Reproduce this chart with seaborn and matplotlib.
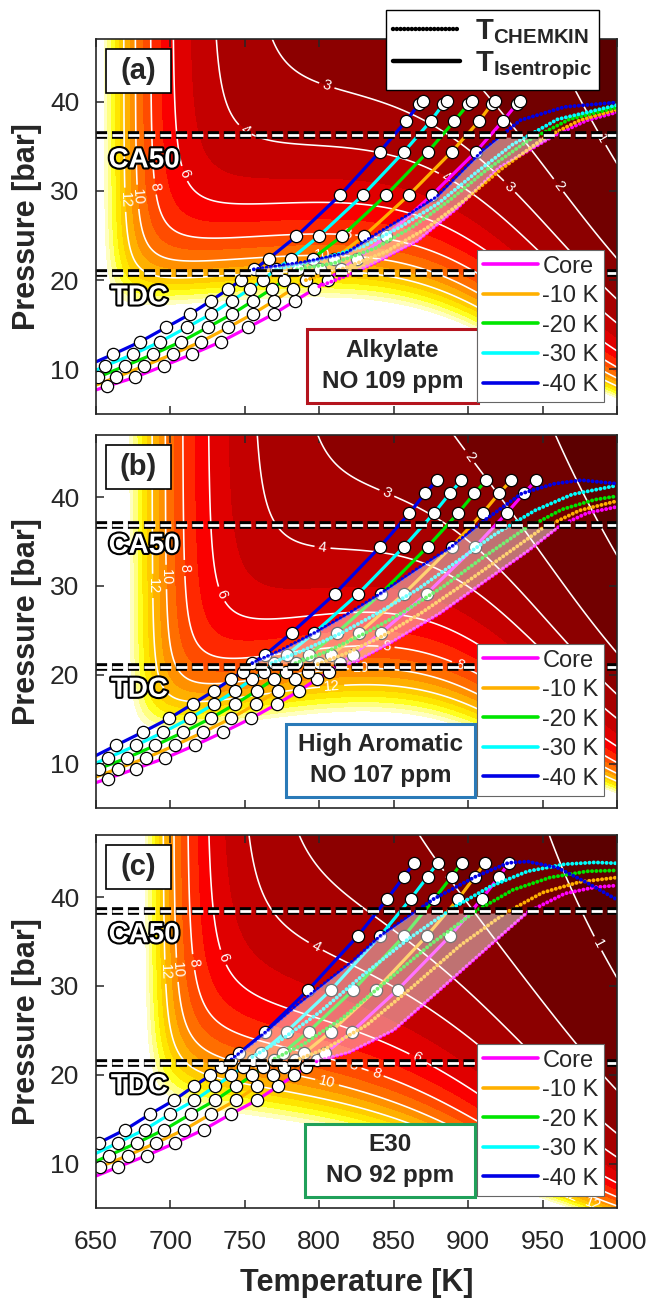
import numpy as np
import matplotlib
matplotlib.use("Agg")
import matplotlib.pyplot as plt
import seaborn as sns
from matplotlib.lines import Line2D
from matplotlib.patches import Rectangle
import matplotlib.patheffects as pe

sns.set_style("ticks")
plt.rcParams["font.family"] = ["Liberation Sans", "DejaVu Sans"]
plt.rcParams["mathtext.fontset"] = "custom"
plt.rcParams["mathtext.rm"] = "Liberation Sans"
plt.rcParams["mathtext.bf"] = "Liberation Sans:bold"
plt.rcParams["lines.scale_dashes"] = False

nan = np.nan

# ---------------- data ----------------
SERIES = ["Core", "-10 K", "-20 K", "-30 K", "-40 K"]
COLORS = ["#ff00ff", "#ffb000", "#00e600", "#00ffff", "#0000e6"]

# ---- panel (a) Alkylate ----
P_ROWS_A = [8.1, 9.1, 10.4, 11.7, 13.1, 14.7, 16.2, 17.7, 19.0, 20.0, 21.2, 22.4, 24.9, 29.5, 34.4, 37.8, 39.7, 40.1]
T_CORE_A = [657.2, 676.0, 695.5, 714.5, 734.0, 752.3, 769.3, 783.9, 796.7, 805.6, 814.6, 825.3, 844.8, 875.5, 905.3, 923.2, 932.6, 934.8]
T_M10_A = [nan, 663.4, 682.5, 701.5, 720.5, 738.9, 755.2, 769.8, 782.1, 791.1, 800.5, 810.1, 829.8, 860.1, 889.1, 907.3, 915.8, 918.0]
T_M20_A = [nan, 651.1, 669.7, 688.5, 707.1, 725.0, 741.4, 755.7, 768.0, 776.5, 785.5, 795.5, 815.0, 844.8, 873.2, 890.7, 900.1, 902.3]
T_M30_A = [nan, nan, 656.3, 675.1, 693.2, 710.9, 727.3, 741.4, 753.4, 762.0, 770.9, 781.0, 799.6, 829.2, 857.1, 874.8, 883.3, 885.5]
T_M40_A = [nan, nan, nan, 661.6, 679.8, 697.0, 713.4, 727.3, 738.9, 747.4, 756.4, 766.0, 784.6, 813.9, 840.8, 858.2, 867.0, 869.4]
START_P_A = [7.7, 8.25, 9.0, 9.9, 10.85]   # isentropic lines at 650 K

# CHEMKIN (dotted) temperature traces, panel (a)
DT_CORE_A = [800, 820, 837, 866, 893, 921, 958, 980, 1000]
DP_CORE_A = [19.3, 20.6, 21.9, 24.4, 28.1, 32.6, 36.2, 37.9, 38.8]
DT_M10_A = [791, 818, 845, 872, 898, 922, 950, 975, 1000]
DP_M10_A = [20.0, 21.4, 23.2, 25.8, 29.0, 32.4, 35.8, 37.9, 39.1]
DT_M20_A = [785, 810, 838, 863, 888, 912, 940, 968, 1000]
DP_M20_A = [21.2, 21.9, 23.6, 26.0, 29.0, 32.3, 35.6, 38.0, 39.35]
DT_M30_A = [771, 800, 830, 855, 880, 905, 930, 960, 1000]
DP_M30_A = [21.2, 22.3, 23.8, 26.0, 28.6, 32.0, 35.2, 38.0, 39.6]
DT_M40_A = [756, 790, 818, 840, 860, 879, 910, 935, 965, 1000]
DP_M40_A = [21.2, 22.0, 23.0, 25.3, 27.3, 29.3, 34.5, 37.9, 39.4, 39.9]

# ---- panel (b) High Aromatic ----
P_ROWS_B = [8.3, 9.43, 10.62, 12.04, 13.53, 15.09, 16.7, 18.19, 19.49, 20.35, 21.28, 22.21, 24.71, 29.11, 34.4, 38.2, 40.4, 41.87]
T_CORE_B = [657.8, 676.9, 696.6, 716.3, 735.5, 754.3, 771.6, 786.6, 798.2, 806.7, 814.0, 822.4, 841.4, 872.1, 904.6, 926.0, 937.4, 945.6]
T_M10_B = [nan, 664.6, 683.6, 703.0, 722.1, 740.7, 757.5, 772.0, 783.7, 792.2, 799.6, 807.9, 826.9, 856.9, 888.9, 909.8, 920.7, 928.9]
T_M20_B = [nan, 652.2, 670.6, 689.9, 708.7, 727.0, 743.6, 757.9, 769.3, 777.6, 784.3, 792.9, 811.7, 841.3, 872.8, 893.3, 904.2, 912.2]
T_M30_B = [nan, nan, 657.8, 676.9, 695.2, 713.1, 729.3, 743.6, 755.0, 763.1, 769.8, 778.1, 796.7, 826.2, 856.9, 877.1, 887.7, 895.5]
T_M40_B = [nan, nan, nan, 663.4, 681.3, 699.3, 714.9, 729.3, 740.7, 748.5, 754.5, 763.5, 781.4, 810.5, 840.8, 860.6, 871.0, 879.0]
START_P_B = [7.85, 8.5, 9.3, 10.05, 10.9]

DT_CORE_B = [812, 825, 850, 881, 912, 940, 962, 980, 1000]
DP_CORE_B = [20.9, 21.5, 23.8, 26.9, 30.6, 33.9, 36.8, 38.2, 38.9]
DT_M10_B = [799, 818, 842, 868, 897, 925, 950, 975, 1000]
DP_M10_B = [21.2, 22.4, 24.3, 26.9, 30.2, 33.5, 36.5, 38.5, 39.55]
DT_M20_B = [784, 805, 830, 856, 884, 910, 937, 963, 985, 1000]
DP_M20_B = [21.3, 22.6, 24.6, 27.0, 30.0, 33.2, 36.3, 38.6, 39.7, 40.1]
DT_M30_B = [768, 790, 815, 840, 866, 893, 918, 945, 970, 1000]
DP_M30_B = [21.3, 22.8, 24.7, 27.0, 29.6, 32.8, 35.8, 38.5, 40.3, 41.3]
DT_M40_B = [755, 775, 797, 820, 841, 865, 889, 912, 936, 958, 976, 1000]
DP_M40_B = [21.3, 22.8, 24.7, 26.9, 29.1, 31.8, 34.4, 37.5, 40.4, 41.5, 41.9, 41.5]

# ---- panel (c) E30 ----
P_ROWS_C = [9.62, 10.9, 12.32, 13.82, 15.58, 17.11, 18.68, 19.92, 20.86, 21.7, 22.43, 24.86, 29.55, 35.6, 39.8, 42.3, 43.85]
T_CORE_C = [665.0, 684.0, 703.3, 722.3, 740.7, 757.9, 772.0, 783.2, 791.1, 798.5, 804.1, 822.0, 852.6, 887.8, 909.1, 920.9, 927.4]
T_M10_C = [652.7, 671.3, 690.3, 709.3, 727.3, 744.0, 758.1, 769.1, 776.5, 783.7, 789.9, 807.9, 838.1, 872.1, 893.4, 904.6, 911.3]
T_M20_C = [nan, 658.5, 677.5, 695.9, 713.8, 729.9, 744.0, 754.8, 762.4, 769.6, 775.4, 792.9, 822.9, 856.9, 877.3, 888.9, 895.7]
T_M30_C = [nan, nan, 664.6, 682.7, 699.9, 716.1, 729.9, 740.7, 748.5, 755.5, 760.8, 778.1, 807.9, 840.8, 861.4, 872.8, 879.5]
T_M40_C = [nan, nan, 651.8, 669.7, 686.5, 702.2, 715.6, 726.6, 734.0, 740.7, 746.3, 763.7, 792.6, 825.8, 845.7, 856.9, 863.8]
START_P_C = [8.6, 9.45, 10.25, 11.15, 12.15]

DT_CORE_C = [798, 820, 850, 880, 915, 940, 965, 985, 1000]
DP_CORE_C = [21.5, 22.5, 25.0, 29.4, 34.6, 38.3, 40.4, 41.1, 41.3]
DT_M10_C = [784, 805, 832, 862, 895, 925, 950, 975, 1000]
DP_M10_C = [21.6, 23.0, 25.6, 29.8, 34.6, 38.2, 40.5, 41.7, 42.2]
DT_M20_C = [770, 790, 815, 845, 875, 905, 930, 955, 980, 1000]
DP_M20_C = [21.8, 23.5, 26.3, 30.5, 34.7, 38.4, 40.8, 42.2, 42.9, 43.0]
DT_M30_C = [755, 775, 800, 830, 860, 890, 915, 940, 965, 985, 1000]
DP_M30_C = [22.0, 24.0, 27.0, 31.3, 35.3, 38.8, 41.2, 42.9, 43.7, 43.9, 43.8]
DT_M40_C = [741, 760, 785, 800, 822, 841, 860, 877, 905, 927, 940, 960, 980, 1000]
DP_M40_C = [21.7, 24.2, 27.8, 29.8, 32.7, 35.6, 37.8, 39.8, 42.3, 43.85, 44.0, 43.3, 41.6, 39.7]

# reference pressures (TDC, CA50) [bar]
TDC_P = [20.75, 20.9, 21.35]
CA50_P = [36.2, 36.8, 38.4]
TDC_TEXT_P = [18.05, 18.3, 18.7]
CA50_TEXT_P = [33.4, 34.5, 35.7]

# ignition-delay map model parameters per fuel:
# c0, B, b1 (low-T), a2, n2, b2 (NTC), a3, n3, b3 (high-T), blend exponent
FIELD_A = [2.0, 4.2, 13000, 3.0, 2.3, 1000, 2.25, 1.7, 18000, 3.0]
FIELD_B = [2.0, 7.4, 12000, 2.95, 2.0, 2000, 2.25, 1.7, 18000, 3.0]
FIELD_C = [1.8, 8.9, 15000, 2.9, 1.75, -1000, 2.3, 1.2, 16000, 3.0]

FUEL_TEXT = ["Alkylate\nNO 109 ppm", "High Aromatic\nNO 107 ppm", "E30\nNO 92 ppm"]
FUEL_EDGE = ["#b4141e", "#2a7ab8", "#20a05a"]
FUEL_BOX_X = [(0.405, 0.733), (0.365, 0.727), (0.401, 0.727)]
PANEL_TAG = ["(a)", "(b)", "(c)"]

# contour label spots (T, P)
LABELS_A = [(800, 39.2), (736, 33.7), (701, 31.4), (686, 30.4), (676, 29.3), (670, 29.0),
            (819, 25.8), (802, 23.5), (885, 31.5), (925, 30.0), (956, 30.0), (994, 36.3)]
LABELS_B = [(903, 44.8), (845, 40.3), (803, 35.6), (753, 30.4), (708, 32.0), (697, 31.0), (690, 30.0),
            (845, 22.8), (828, 20.5), (808.5, 18.9), (897, 22.2)]
LABELS_C = [(794.5, 33.5), (730.5, 32.9), (712, 32.6), (704, 31.8), (698, 31.6), (868, 22.8),
            (840.6, 21.3), (821, 19.8), (804, 18.3), (978.5, 34.0), (889, 42.5),
            (951, 6.2), (967, 5.8), (984, 5.6)]

FILL_LEVELS = [0, 1, 2, 3, 4, 5, 6, 7, 8, 9, 10, 11, 12, 13, 14, 15, 16, 17, 1e4]
FILL_COLORS = ["#5c0000", "#720000", "#8c0000", "#a80000", "#c40000", "#e00000", "#fa0000",
               "#ff2800", "#ff4c00", "#ff6e00", "#ff9000", "#ffb000", "#ffcc00", "#ffe600",
               "#ffff20", "#ffff80", "#ffffc0", "#ffffff"]
LINE_LEVELS = [1, 2, 3, 4, 6, 8, 10, 12]


def ignition_delay(T, P, prm):
    c0, bb, b1, a2, n2, b2, a3, n3, b3, k = prm
    t1 = c0 + bb * np.exp(b1 * (1.0 / T - 1.0 / 700.0))
    t2 = a2 * (P / 40.0) ** (-n2) * np.exp(-b2 * (1.0 / T - 1.0 / 830.0))
    t3 = a3 * (P / 40.0) ** (-n3) * np.exp(b3 * (1.0 / T - 1.0 / 950.0))
    tlt = (t1 ** k + t2 ** k) ** (1.0 / k)
    return 1.0 / (1.0 / tlt + 1.0 / t3)


# ---------------- figure ----------------
fig = plt.figure(figsize=(6.46, 13.0), dpi=100)
AX_POS = [[0.1486, 0.6815, 0.8065, 0.2885],
          [0.1486, 0.3785, 0.8065, 0.2870],
          [0.1486, 0.0708, 0.8065, 0.2870]]

panels = [
    (FIELD_A, P_ROWS_A, [T_CORE_A, T_M10_A, T_M20_A, T_M30_A, T_M40_A], START_P_A,
     [(DT_CORE_A, DP_CORE_A), (DT_M10_A, DP_M10_A), (DT_M20_A, DP_M20_A), (DT_M30_A, DP_M30_A), (DT_M40_A, DP_M40_A)],
     LABELS_A),
    (FIELD_B, P_ROWS_B, [T_CORE_B, T_M10_B, T_M20_B, T_M30_B, T_M40_B], START_P_B,
     [(DT_CORE_B, DP_CORE_B), (DT_M10_B, DP_M10_B), (DT_M20_B, DP_M20_B), (DT_M30_B, DP_M30_B), (DT_M40_B, DP_M40_B)],
     LABELS_B),
    (FIELD_C, P_ROWS_C, [T_CORE_C, T_M10_C, T_M20_C, T_M30_C, T_M40_C], START_P_C,
     [(DT_CORE_C, DP_CORE_C), (DT_M10_C, DP_M10_C), (DT_M20_C, DP_M20_C), (DT_M30_C, DP_M30_C), (DT_M40_C, DP_M40_C)],
     LABELS_C),
]

Tg = np.linspace(650, 1000, 351)
Pg = np.linspace(5, 47, 300)
TT, PP = np.meshgrid(Tg, Pg)

outline = [pe.withStroke(linewidth=3.0, foreground="black")]

for i, (prm, prows, tcurves, startp, dotted, labpos) in enumerate(panels):
    ax = fig.add_axes(AX_POS[i])
    tau = ignition_delay(TT, PP, prm)
    ax.contourf(TT, PP, tau, levels=FILL_LEVELS, colors=FILL_COLORS, zorder=0)
    cs = ax.contour(TT, PP, tau, levels=LINE_LEVELS, colors="white", linewidths=1.15, zorder=1)
    ax.clabel(cs, manual=labpos, fmt="%d", fontsize=10.5, colors="white", inline=True, inline_spacing=4)

    # isentropic (solid) trajectories with markers
    for j in range(5):
        t = np.array(tcurves[j], dtype=float)
        ok = ~np.isnan(t)
        tl = np.concatenate([[650.0], t[ok]])
        pl = np.concatenate([[startp[j]], np.array(prows)[ok]])
        sns.lineplot(x=tl, y=pl, sort=False, color=COLORS[j], linewidth=2.3, ax=ax, zorder=3, legend=False)
        sns.scatterplot(x=t[ok], y=np.array(prows)[ok], s=78, color="white", edgecolor="black",
                        linewidth=0.9, ax=ax, zorder=4, legend=False)

    # CHEMKIN (dotted) trajectories
    for j in range(5):
        dt, dp = dotted[j]
        sns.lineplot(x=dt, y=dp, sort=False, color=COLORS[j], linewidth=2.8, linestyle=(0, (0.1, 3.0)),
                     dash_capstyle="round", ax=ax, zorder=5, legend=False)

    # translucent band between -40 K and Core CHEMKIN traces, TDC -> CA50
    pb = np.linspace(TDC_P[i] + 0.3, CA50_P[i] - 0.2, 80)
    dtl, dpl = dotted[4]
    pk = int(np.argmax(dpl)) + 1
    tleft = np.interp(pb, dpl[:pk], dtl[:pk])
    dtr, dpr = dotted[0]
    tright = np.interp(pb, dpr, dtr)
    ax.fill_betweenx(pb, tleft, tright, color="white", alpha=0.45, lw=0, zorder=6)

    # TDC / CA50 reference lines
    for pref in (TDC_P[i], CA50_P[i]):
        ax.axhline(pref, color="black", lw=5.5, linestyle=(0, (8, 3.5)), zorder=7)
        ax.axhline(pref, color="white", lw=2.0, linestyle=(0, (8, 3.5)), zorder=7.1)
    ax.text(658.5, CA50_TEXT_P[i], "CA50", fontsize=20, fontweight="bold", color="white",
            ha="left", va="center", path_effects=outline, zorder=8)
    ax.text(660, TDC_TEXT_P[i], "TDC", fontsize=20, fontweight="bold", color="white",
            ha="left", va="center", path_effects=outline, zorder=8)

    # panel tag
    ax.add_patch(Rectangle((0.019, 0.856), 0.125, 0.117, transform=ax.transAxes, facecolor="white",
                           edgecolor="black", lw=1.2, zorder=9))
    ax.text(0.0815, 0.9145, PANEL_TAG[i], transform=ax.transAxes, fontsize=21, fontweight="bold",
            ha="center", va="center", zorder=10)

    # fuel box
    x0, x1 = FUEL_BOX_X[i]
    ax.add_patch(Rectangle((x0, 0.03), x1 - x0, 0.196, transform=ax.transAxes, facecolor="white",
                           edgecolor=FUEL_EDGE[i], lw=2.2, zorder=9))
    ax.text((x0 + x1) / 2, 0.128, FUEL_TEXT[i], transform=ax.transAxes, fontsize=17.5, fontweight="bold",
            ha="center", va="center", linespacing=1.45, zorder=10)

    # series legend
    handles = [Line2D([], [], color=c, lw=2.6) for c in COLORS]
    leg = ax.legend(handles, SERIES, loc="lower right", bbox_to_anchor=(0.976, 0.033),
                    frameon=True, fancybox=False, edgecolor="#666666", framealpha=1, fontsize=17,
                    handlelength=2.3, handletextpad=0.2, labelspacing=0.32, borderpad=0.25,
                    borderaxespad=0)
    leg.set_zorder(11)
    leg.get_frame().set_linewidth(0.8)

    ax.set_xlim(650, 1000)
    ax.set_ylim(5, 47)
    ax.set_xticks(np.arange(650, 1001, 50))
    ax.set_yticks([10, 20, 30, 40])
    ax.tick_params(direction="in", top=True, right=True, length=6, width=1.1, labelsize=19,
                   pad=12)
    ax.tick_params(axis="x", pad=16)
    for s in ax.spines.values():
        s.set_linewidth(1.2)
        s.set_zorder(12)
    ax.set_ylabel("Pressure [bar]", fontsize=22, fontweight="bold")
    ax.yaxis.set_label_coords(-0.104, 0.5)
    if i < 2:
        ax.set_xticklabels([])
        ax.set_xlabel("")
    else:
        ax.set_xlabel("Temperature [K]", fontsize=22, fontweight="bold")
        ax.xaxis.set_label_coords(0.5, -0.16)

# top legend (line style meaning)
top_handles = [Line2D([], [], color="black", lw=3.2, linestyle=(0, (0.1, 2.6)), dash_capstyle="round"),
               Line2D([], [], color="black", lw=3.2)]
top_labels = [r"$\mathbf{T_{CHEMKIN}}$", r"$\mathbf{T_{Isentropic}}$"]
fig.legend(top_handles, top_labels, loc="upper right", bbox_to_anchor=(0.927, 0.992), fontsize=21,
           frameon=True, fancybox=False, edgecolor="black", framealpha=1, handlelength=2.3,
           handletextpad=0.5, labelspacing=0.1, borderpad=0.25, borderaxespad=0)

fig.savefig("out.png", dpi=100)
